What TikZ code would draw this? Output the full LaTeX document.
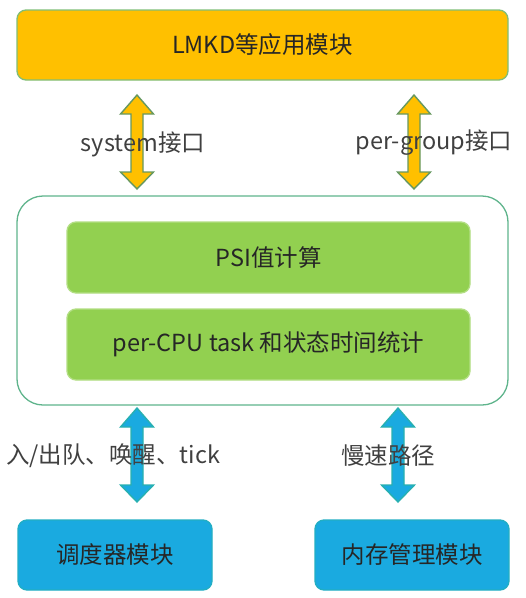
\documentclass[tikz,border=0pt]{standalone}
\usepackage{fontspec}
\setmainfont{Noto Sans CJK SC}
\usepackage{xcolor}
\usepackage{tikz}
\usetikzlibrary{calc}
\definecolor{NaranjaApp}{RGB}{255,192,0}
\definecolor{VerdeBorde}{RGB}{128,190,120}
\definecolor{VerdePSI}{RGB}{146,208,80}
\definecolor{VerdeMarco}{RGB}{95,180,140}
\definecolor{AzulModulo}{RGB}{26,170,224}
\definecolor{AzulBorde}{RGB}{40,176,176}

% double block arrow from top tip (#1) to bottom tip (#2)
\newcommand{\flechadoble}[3]{%
  \draw[#3] let \p1=(#1), \p2=(#2) in
    (\x1,\y1) -- (\x1+16.5pt,\y1-19pt) -- (\x1+6pt,\y1-19pt)
    -- (\x1+6pt,\y2+17pt) -- (\x1+16.5pt,\y2+17pt) -- (\x1,\y2)
    -- (\x1-16.5pt,\y2+17pt) -- (\x1-6pt,\y2+17pt)
    -- (\x1-6pt,\y1-19pt) -- (\x1-16.5pt,\y1-19pt) -- cycle;}

\begin{document}
\begin{tikzpicture}[x=1pt,y=-1pt,font=\fontsize{23.5}{26}\selectfont,
  caja/.style={rounded corners=9pt,line width=1.3pt,inner sep=0pt,text=black!85},
  appbox/.style={caja,fill=NaranjaApp,draw=VerdeBorde,
    minimum width=491pt,minimum height=70pt},
  corebox/.style={rounded corners=26pt,line width=1.3pt,draw=VerdeMarco,
    fill=white,minimum width=491pt,minimum height=209pt},
  psibox/.style={caja,fill=VerdePSI,draw=VerdePSI!70!white,
    minimum width=403pt,minimum height=71pt},
  modbox/.style={caja,fill=AzulModulo,draw=AzulBorde!60!AzulModulo,
    minimum width=194pt,minimum height=70pt},
  flechaamarilla/.style={fill=NaranjaApp,draw=VerdeBorde!80!black,line width=1.4pt},
  flechaazul/.style={fill=AzulModulo,draw=AzulBorde,line width=1.4pt},
  etiqueta/.style={text=black!75,inner sep=0pt}]
  \useasboundingbox (0,0) rectangle (526,598);

  \node[appbox] (lmkd) at (262.5,45) {LMKD等应用模块};
  \node[corebox] (core) at (262.5,300.5) {};
  \node[psibox] (psi) at (268.5,257.5) {PSI值计算};
  \node[psibox] (stat) at (268.5,344.5) {per-CPU task 和状态时间统计};
  \node[modbox] (sched) at (115,555) {调度器模块};
  \node[modbox] (mm) at (412,555) {内存管理模块};

  % arrow ends
  \coordinate (sysA) at (137,95);
  \coordinate (sysB) at (137,189);
  \coordinate (grpA) at (414,95);
  \coordinate (grpB) at (414,189);
  \coordinate (colaA) at (137,408);
  \coordinate (colaB) at (137,502);
  \coordinate (lentoA) at (398,408);
  \coordinate (lentoB) at (398,502);

  \flechadoble{sysA}{sysB}{flechaamarilla}
  \flechadoble{grpA}{grpB}{flechaamarilla}
  \flechadoble{colaA}{colaB}{flechaazul}
  \flechadoble{lentoA}{lentoB}{flechaazul}

  \node[etiqueta] (syslbl) at (143,144) {system接口};
  \node[etiqueta] (grplbl) at (434,143) {per-group接口};
  \node[etiqueta] (colalbl) at (113,456) {入/出队、唤醒、tick};
  \node[etiqueta] (lentolbl) at (388,456) {慢速路径};
\end{tikzpicture}
\end{document}
